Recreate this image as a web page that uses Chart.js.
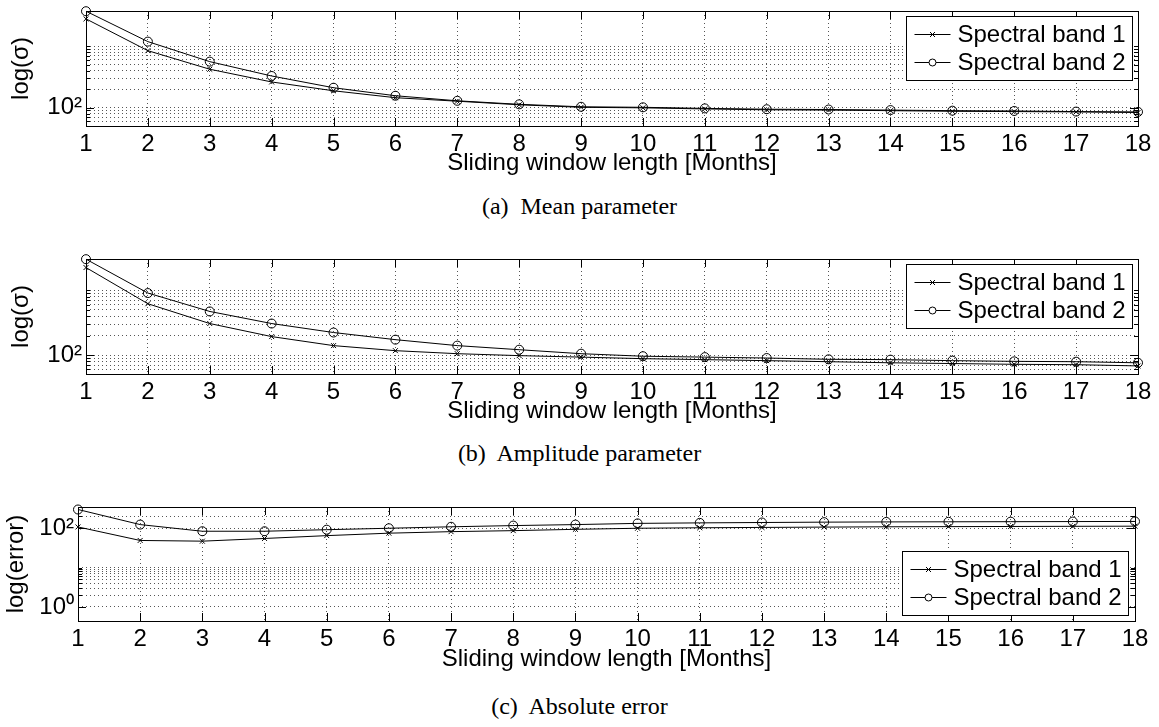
<!DOCTYPE html>
<html>
<head>
<meta charset="utf-8">
<script src="https://cdn.jsdelivr.net/npm/chart.js@4.4.1/dist/chart.umd.min.js"></script>
<style>
  html, body { margin: 0; padding: 0; background: #fff; }
  #wrap { position: relative; width: 1159px; height: 727px; overflow: hidden; }
  canvas { position: absolute; left: 0; }
  .caption {
    position: absolute; left: 0; width: 1159px; text-align: center;
    font-family: "Liberation Serif", "Times New Roman", serif; font-size: 24px;
    line-height: 26px; color: #000; white-space: pre;
  }
</style>
</head>
<body>
<div id="wrap">
  <canvas id="chart-mean" width="1159" height="178" style="top:0px"></canvas>
  <div class="caption" style="top:193px">(a)  Mean parameter</div>
  <canvas id="chart-amp" width="1159" height="178" style="top:248px"></canvas>
  <div class="caption" style="top:440px">(b)  Amplitude parameter</div>
  <canvas id="chart-err" width="1159" height="178" style="top:496px"></canvas>
  <div class="caption" style="top:693px">(c)  Absolute error</div>
</div>
<script>
// datos
const months = ['1', '2', '3', '4', '5', '6', '7', '8', '9', '10', '11', '12', '13', '14', '15', '16', '17', '18'];
const legendLabels = ['Spectral band 1', 'Spectral band 2'];

const meanBand1 = [2810, 850, 423, 262, 188, 145, 127, 111, 101, 99, 95, 92, 91, 89, 87, 86, 85, 83];
const meanBand2 = [3750, 1195, 563, 328, 211, 156, 129, 113, 103, 101, 97, 94, 93, 91, 89, 88, 86, 85];

const ampBand1 = [2250, 621, 307, 193, 140, 117, 105, 98, 93, 88, 85, 82, 79, 76, 74, 72, 71, 68];
const ampBand2 = [3030, 908, 472, 307, 223, 173, 140, 121, 105, 96, 93, 90, 86, 85, 82, 80, 79, 76];

const errBand1 = [108, 49, 47, 55, 65, 75, 82, 87, 94, 100, 103, 105, 107, 109, 110, 111, 112, 113];
const errBand2 = [300, 124, 84, 84, 92, 100, 109, 117, 124, 133, 137, 140, 143, 145, 146, 147, 148, 149];

const sigmaTicksMean = [50, 60, 70, 80, 90, 100, 200, 300, 400, 500, 600, 700, 800, 900, 1000];
const sigmaTicksAmp = [60, 70, 80, 90, 100, 200, 300, 400, 500, 600, 700, 800, 900, 1000];
const errorTicks = [1, 2, 3, 4, 5, 6, 7, 8, 9, 10, 100, 200];

Chart.defaults.font.family = '"Liberation Sans", Arial, Helvetica, sans-serif';
Chart.defaults.font.size = 24;
Chart.defaults.color = '#000';

function tickLabel(v) {
    if (v === 100) return '10\u00B2';
    if (v === 1) return '10\u2070';
    return '';
}

// marco, marcas hacia dentro y leyenda dentro del área del gráfico
function framePlugin(legendPos) {
    return {
        id: 'frame',
        afterDraw(chart) {
            const {ctx, chartArea: a, scales: {x, y}} = chart;
            ctx.save();
            ctx.strokeStyle = '#000';
            ctx.lineWidth = 1;
            ctx.setLineDash([]);
            ctx.beginPath();
            x.ticks.forEach((t, i) => {
                const px = Math.round(x.getPixelForTick(i)) + 0.5;
                ctx.moveTo(px, a.bottom); ctx.lineTo(px, a.bottom - 8);
                ctx.moveTo(px, a.top); ctx.lineTo(px, a.top + 8);
            });
            y.ticks.forEach(t => {
                const py = Math.round(y.getPixelForValue(t.value)) + 0.5;
                const len = tickLabel(t.value) ? 8 : 4;
                ctx.moveTo(a.left, py); ctx.lineTo(a.left + len, py);
                ctx.moveTo(a.right, py); ctx.lineTo(a.right - len, py);
            });
            ctx.stroke();
            ctx.strokeRect(Math.round(a.left) + 0.5, Math.round(a.top) + 0.5, Math.round(a.width), Math.round(a.height));

            // leyenda
            const w = 226, h = 64;
            const bx = Math.round(a.right - legendPos.right - w) + 0.5;
            const by = legendPos.top !== undefined
                ? Math.round(a.top + legendPos.top) + 0.5
                : Math.round(a.bottom - legendPos.bottom - h) + 0.5;
            ctx.fillStyle = '#fff';
            ctx.fillRect(bx, by, w, h);
            ctx.strokeRect(bx, by, w, h);
            legendLabels.forEach((label, i) => {
                const ly = Math.round(by + 17 + i * 28);
                ctx.beginPath();
                ctx.moveTo(bx + 8, ly + 0.5);
                ctx.lineTo(bx + 44, ly + 0.5);
                ctx.stroke();
                const mx = bx + 26, my = ly + 0.5;
                ctx.beginPath();
                if (i === 0) {
                    ctx.moveTo(mx - 2.5, my - 2.5); ctx.lineTo(mx + 2.5, my + 2.5);
                    ctx.moveTo(mx + 2.5, my - 2.5); ctx.lineTo(mx - 2.5, my + 2.5);
                } else {
                    ctx.fillStyle = '#fff';
                    ctx.arc(mx, my, 3.5, 0, Math.PI * 2);
                    ctx.fill();
                }
                ctx.stroke();
                ctx.fillStyle = '#000';
                ctx.font = '24px "Liberation Sans", Arial, sans-serif';
                ctx.textBaseline = 'middle';
                ctx.textAlign = 'left';
                ctx.fillText(label, bx + 51, ly + 1);
            });
            ctx.restore();
        }
    };
}

function renderPanel(canvasId, cfg) {
    const config = {
        type: 'line',
        data: {
            labels: months,
            datasets: [
                {
                    label: legendLabels[0],
                    data: cfg.band1,
                    borderColor: '#000',
                    borderWidth: 1,
                    pointStyle: 'crossRot',
                    pointRadius: 3.5,
                    pointBorderWidth: 1,
                    pointBorderColor: '#000',
                    tension: 0,
                    clip: false
                },
                {
                    label: legendLabels[1],
                    data: cfg.band2,
                    borderColor: '#000',
                    borderWidth: 1,
                    pointStyle: 'circle',
                    pointRadius: 4.5,
                    pointBorderWidth: 1,
                    pointBorderColor: '#000',
                    pointBackgroundColor: 'rgba(255,255,255,0)',
                    tension: 0,
                    clip: false
                }
            ]
        },
        options: {
            responsive: false,
            animation: false,
            events: [],
            layout: {padding: {top: 11, right: cfg.right, left: 0, bottom: 0}},
            plugins: {legend: {display: false}, tooltip: {enabled: false}},
            scales: {
                x: {
                    type: 'category',
                    offset: false,
                    grid: {color: '#555', lineWidth: 1, drawTicks: false, offset: false},
                    border: {display: false, dash: [1, 3]},
                    ticks: {padding: 4, maxRotation: 0, autoSkip: false},
                    title: {display: true, text: 'Sliding window length [Months]', padding: {top: 0, bottom: 0}},
                    afterFit: s => {
                        s.height = cfg.xHeight;
                        s.paddingLeft = 0;
                        s.paddingRight = 0;
                    }
                },
                y: {
                    type: 'logarithmic',
                    min: cfg.min,
                    max: cfg.max,
                    grid: {color: '#555', lineWidth: 1, drawTicks: false},
                    border: {display: false, dash: [1, 3]},
                    ticks: {padding: 4, autoSkip: false, callback: v => tickLabel(v)},
                    afterBuildTicks: s => {
                        s.ticks = cfg.ticks.map(v => ({value: v}));
                    },
                    title: {display: true, text: cfg.yTitle, padding: {top: cfg.titlePad, bottom: 0}},
                    afterFit: s => {
                        s.width = cfg.left;
                        s.paddingTop = 0;
                        s.paddingBottom = 0;
                    }
                }
            }
        },
        plugins: [framePlugin(cfg.legend)]
    };
    const ctx = document.getElementById(canvasId).getContext('2d');
    return new Chart(ctx, config);
}

renderPanel('chart-mean', {
    band1: meanBand1, band2: meanBand2, min: 50, max: 3780, ticks: sigmaTicksMean,
    yTitle: 'log(\u03C3)', titlePad: 7, left: 86, right: 21, xHeight: 52,
    legend: {right: 6, top: 5}
});

renderPanel('chart-amp', {
    band1: ampBand1, band2: ampBand2, min: 51, max: 3050, ticks: sigmaTicksAmp,
    yTitle: 'log(\u03C3)', titlePad: 7, left: 86, right: 21, xHeight: 52,
    legend: {right: 6, top: 5}
});

renderPanel('chart-err', {
    band1: errBand1, band2: errBand2, min: 0.44, max: 347, ticks: errorTicks,
    yTitle: 'log(error)', titlePad: 2, left: 78, right: 24, xHeight: 53,
    legend: {right: 7, bottom: 6}
});
</script>
</body>
</html>
